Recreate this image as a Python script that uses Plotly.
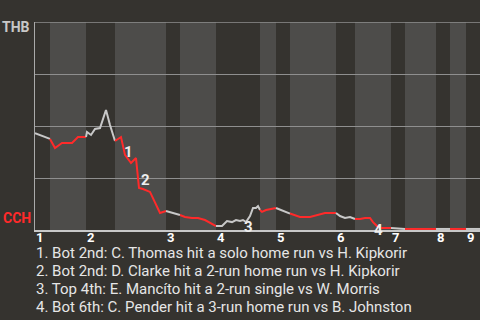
import plotly.graph_objects as go

# ---- data ----
# game progress (arbitrary units), THB win probability
progress = [0, 7, 15, 20, 27, 37, 43, 51, 52, 56, 60, 65, 71, 75, 80,
            82, 86, 90, 96, 101, 104, 108, 115, 125, 129, 131,
            140, 145, 150, 157, 163, 170, 177, 181,
            187, 192, 197, 201, 205, 208, 211, 215, 218, 221, 223, 225,
            227, 231, 237, 241, 248, 255,
            265, 275, 285, 290, 301,
            305, 310, 315, 320,
            325, 330, 335, 338, 342, 346, 356,
            363, 370, 385, 401, 408, 415, 423, 431, 438, 445]
win_prob = [0.466, 0.452, 0.438, 0.394, 0.418, 0.418, 0.447, 0.447, 0.471, 0.457, 0.486, 0.490, 0.577, 0.505, 0.428,
            0.433, 0.447, 0.361, 0.322, 0.346, 0.202, 0.197, 0.183, 0.082, 0.087, 0.091,
            0.077, 0.072, 0.0625, 0.058, 0.058, 0.048, 0.029, 0.019,
            0.019, 0.043, 0.038, 0.048, 0.043, 0.048, 0.038, 0.067, 0.106, 0.106, 0.115, 0.096,
            0.087, 0.096, 0.101, 0.106, 0.091, 0.079,
            0.0625, 0.0625, 0.077, 0.082, 0.082,
            0.067, 0.058, 0.0625, 0.053,
            0.053, 0.058, 0.058, 0.038, 0.019, 0.010, 0.010,
            0.008, 0.005, 0.005, 0.005, 0.005, 0.005, 0.005, 0.005, 0.005, 0.005]
half_bounds = [0, 15, 51, 80, 131, 145, 181, 225, 241, 255, 301, 320, 356, 370, 401, 415, 431, 445]
inning_labels = ["1", "2", "3", "4", "5", "6", "7", "8", "9"]
team_top = "THB"
team_bottom = "CCH"
event_labels = ["1", "2", "3", "4"]
event_x = [93, 110, 213, 343]
event_y = [0.375, 0.24, 0.014, 0.0]
event_texts = [
    "1. Bot 2nd: C. Thomas hit a solo home run vs H. Kipkorir",
    "2. Bot 2nd: D. Clarke hit a 2-run home run vs H. Kipkorir",
    "3. Top 4th: E. Mancíto hit a 2-run single vs W. Morris",
    "4. Bot 6th: C. Pender hit a 3-run home run vs B. Johnston",
]

DARK = "#35332f"
LIGHT = "#4d4c4a"
RED = "#ff2a2a"
GRAY = "#c8c8c8"
FONT = "Roboto"

fig = go.Figure()
shapes = []
for i in range(len(half_bounds) - 1):
    s, e = half_bounds[i], half_bounds[i + 1]
    is_bottom = (i % 2 == 1)
    if is_bottom:
        shapes.append(dict(type="rect", xref="x", yref="y", x0=s, x1=e, y0=0, y1=1,
                           fillcolor=LIGHT, line=dict(width=0), layer="below"))
    xs = [x for x in progress if s <= x <= e]
    ys = [win_prob[j] for j, x in enumerate(progress) if s <= x <= e]
    fig.add_trace(go.Scatter(x=xs, y=ys, mode="lines",
                             line=dict(color=RED if is_bottom else GRAY, width=2),
                             hoverinfo="skip", showlegend=False))
# top border of the plot
shapes.append(dict(type="line", xref="paper", yref="y", x0=0, x1=1, y0=1, y1=1,
                   line=dict(color="#8f8f8f", width=1.5), layer="above"))

annotations = []
for k, lab in enumerate(inning_labels):
    annotations.append(dict(x=half_bounds[2 * k], y=0, xref="x", yref="y", text=f"<b>{lab}</b>",
                            xanchor="left", yanchor="top", showarrow=False, xshift=0, yshift=1,
                            borderpad=0,
                            font=dict(family=FONT, size=13, color="#ffffff")))
for lab, ex, ey in zip(event_labels, event_x, event_y):
    annotations.append(dict(x=ex, y=ey, xref="x", yref="y", text=f"<b>{lab}</b>",
                            showarrow=False, xanchor="center", yanchor="middle",
                            font=dict(family=FONT, size=15, color="#eeeeee")))
annotations.append(dict(x=0, y=1, xref="paper", yref="y", text=f"<b>{team_top}</b>", showarrow=False,
                        xanchor="right", yanchor="middle", xshift=-3, yshift=-5,
                        font=dict(family=FONT, size=14, color=GRAY)))
annotations.append(dict(x=0, y=0, xref="paper", yref="y", text=f"<b>{team_bottom}</b>", showarrow=False,
                        xanchor="right", yanchor="middle", xshift=-2, yshift=12,
                        font=dict(family=FONT, size=14, color=RED)))
for k, t in enumerate(event_texts):
    annotations.append(dict(x=0, y=0, xref="paper", yref="paper", text=t, showarrow=False,
                            xanchor="left", yanchor="middle", xshift=0, yshift=-23 - 18 * k,
                            borderpad=0,
                            font=dict(family=FONT, size=15, color="#e6e6e6")))

fig.update_layout(
    width=480, height=320,
    margin=dict(l=35, r=0, t=22, b=90),
    paper_bgcolor=DARK, plot_bgcolor=DARK,
    shapes=shapes, annotations=annotations,
    xaxis=dict(range=[0, 445], showgrid=False, zeroline=False, showticklabels=False,
               showline=True, linecolor=GRAY, linewidth=2, fixedrange=True),
    yaxis=dict(range=[0, 1], tickvals=[0.25, 0.5, 0.75], showgrid=True, gridcolor="#8f8f8f",
               gridwidth=1, zeroline=False, showticklabels=False,
               showline=True, linecolor="#aaaaaa", linewidth=1, fixedrange=True),
)

fig.write_html("out.html", config={"displayModeBar": False})
